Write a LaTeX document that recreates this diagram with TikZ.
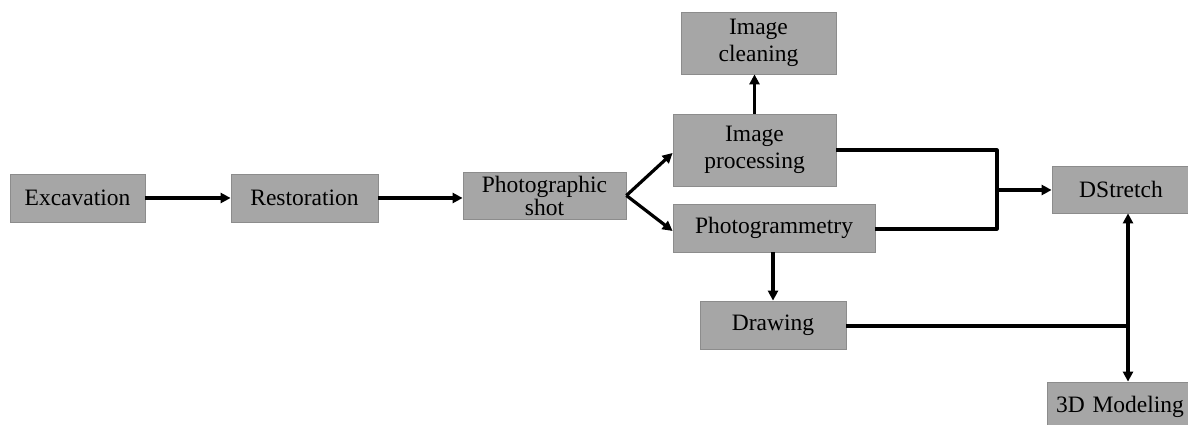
\documentclass[tikz,border=0pt]{standalone}
\usepackage{fontspec}
\setmainfont{Liberation Serif}
\usetikzlibrary{arrows.meta}
\begin{document}
\begin{tikzpicture}[x=1pt,y=1pt,
  box/.style={draw=black!45,line width=0.8pt,fill=black!35,inner sep=0pt,align=center,
    font=\fontsize{23.5}{27}\selectfont},
  conn/.style={line width=3.2pt,line join=round},
  arr/.style={conn,-{Triangle[length=10pt,width=10pt]}}]
\useasboundingbox (0,0) rectangle (1188,425);
\node[box,minimum width=135,minimum height=48] (exc) at (77.5,227) {Excavation};
\node[box,minimum width=147,minimum height=48] (res) at (304.5,227) {Restoration};
\node[box,minimum width=163,minimum height=47] (pho) at (544.5,229.5) {Photographic\\[-4pt]shot};
\node[box,minimum width=155,minimum height=62] (cle) at (758.5,382) {Image\\cleaning};
\node[box,minimum width=163,minimum height=72] (pro) at (754.5,275) {Image\\processing};
\node[box,minimum width=202,minimum height=48] (gra) at (774,197) {Photogrammetry};
\node[box,minimum width=146,minimum height=48] (dra) at (773,100) {Drawing};
\node[box,minimum width=138,minimum height=47] (dst) at (1121,235.5) {DStretch};
\node[box,minimum width=150,minimum height=50,text width=150,align=left] (mod) at (1122,18) {\hspace{9pt}3D Modeling};
\coordinate (j1) at (997,275);
\coordinate (j2) at (997,196);
\coordinate (j3) at (997,235);
\coordinate (j4) at (1128,99);
\draw[arr] (exc.east) -- (res.west);
\draw[arr] (res.east) -- (pho.west|-res.east);
\draw[arr] (pho.east) -- (pro.west|-0,272);
\draw[arr] (pho.east) -- (gra.west|-0,194);
\draw[arr] (pro.north) -- (cle.south-|pro.north);
\draw[conn] (pro.east) -- (j1) -- (j2) -- (gra.east|-j2);
\draw[arr] (j3) -- (dst.west|-j3);
\draw[arr] (gra.south-|dra.north) -- (dra.north);
\draw[conn] (dra.east|-j4) -- (j4);
\draw[arr] (j4) -- (dst.south-|j4);
\draw[arr] (j4) -- (mod.north-|j4);
\end{tikzpicture}
\end{document}
